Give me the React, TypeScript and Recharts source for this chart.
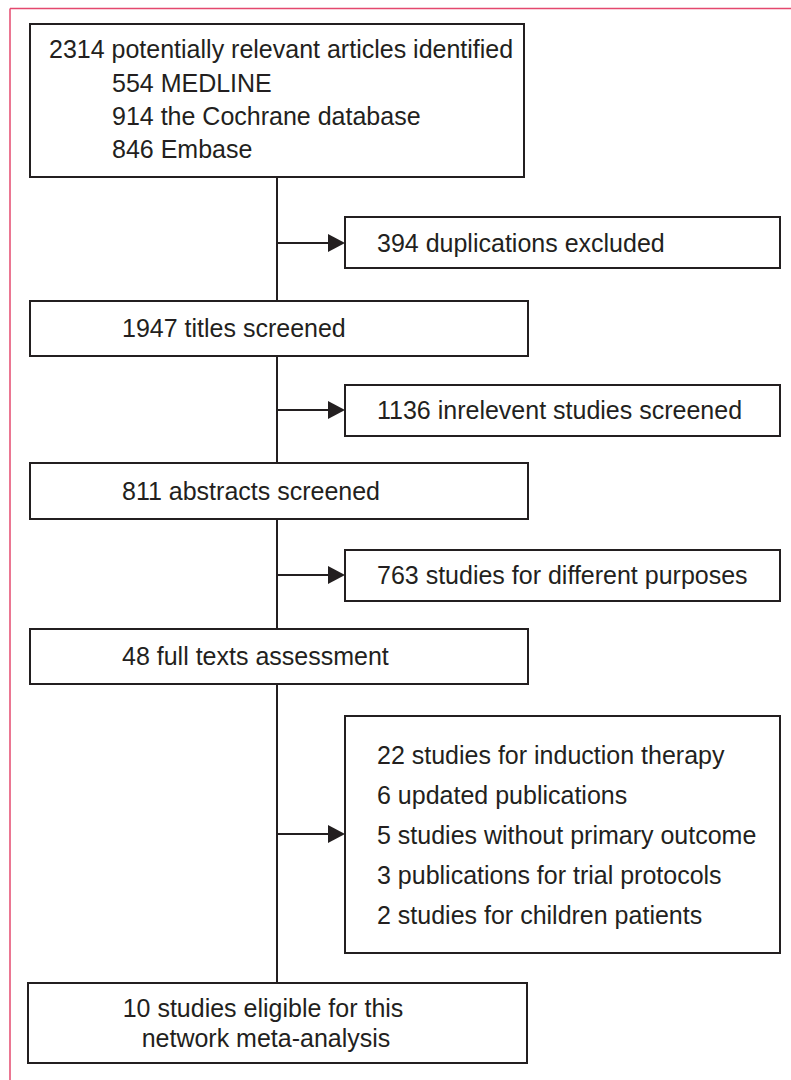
import { ComposedChart, XAxis, YAxis, ReferenceArea, ReferenceLine, Scatter } from 'recharts';

// flow stages on the left column (chart units = pixels)
const mainBoxes = [
  { x1: 30, x2: 524, y1: 24, y2: 177 },
  { x1: 30, x2: 528, y1: 301, y2: 356 },
  { x1: 30, x2: 528, y1: 463, y2: 519 },
  { x1: 30, x2: 528, y1: 629, y2: 684 },
  { x1: 28, x2: 527, y1: 983, y2: 1063 },
];

// exclusion boxes on the right column
const sideBoxes = [
  { x1: 345, x2: 780, y1: 217, y2: 268 },
  { x1: 345, x2: 780, y1: 385, y2: 436 },
  { x1: 345, x2: 780, y1: 550, y2: 601 },
  { x1: 345, x2: 780, y1: 716, y2: 953 },
];

const spineX = 277;

const arrows = [
  { x: 345, y: 243 },
  { x: 345, y: 410 },
  { x: 345, y: 575 },
  { x: 345, y: 834 },
];

const mainLabels = [
  { x: 49, y: 58, text: '2314 potentially relevant articles identified' },
  { x: 112, y: 92, text: '554 MEDLINE' },
  { x: 112, y: 125, text: '914 the Cochrane database' },
  { x: 112, y: 158, text: '846 Embase' },
  { x: 122, y: 337, text: '1947 titles screened' },
  { x: 122, y: 500, text: '811 abstracts screened' },
  { x: 122, y: 665, text: '48 full texts assessment' },
];

const sideLabels = [
  { x: 377, y: 252, text: '394 duplications excluded' },
  { x: 377, y: 419, text: '1136 inrelevent studies screened' },
  { x: 377, y: 584, text: '763 studies for different purposes' },
  { x: 377, y: 764, text: '22 studies for induction therapy' },
  { x: 377, y: 804, text: '6 updated publications' },
  { x: 377, y: 844, text: '5 studies without primary outcome' },
  { x: 377, y: 884, text: '3 publications for trial protocols' },
  { x: 377, y: 924, text: '2 studies for children patients' },
];

const finalLabels = [
  { x: 263, y: 1017, text: '10 studies eligible for this' },
  { x: 266, y: 1047, text: 'network meta-analysis' },
];

const INK = '#231f20';
const FONT = '"Liberation Sans", Arial, sans-serif';

const leftText = (props: any) => (
  <text x={props.cx} y={props.cy} fill={INK} fontSize={25} fontFamily={FONT}>
    {props.payload.text}
  </text>
);

const centerText = (props: any) => (
  <text x={props.cx} y={props.cy} fill={INK} fontSize={25} fontFamily={FONT} textAnchor="middle">
    {props.payload.text}
  </text>
);

const arrowHead = (props: any) => {
  const { cx, cy } = props;
  return <path d={`M${cx},${cy} L${cx - 17},${cy - 9} L${cx - 17},${cy + 9} Z`} fill={INK} />;
};

// spine pieces run only in the gaps between the left boxes
const spineGaps = mainBoxes.slice(0, -1).map((b, i) => [b.y2, mainBoxes[i + 1].y1]);

export default function App() {
  return (
    <div style={{ position: 'absolute', left: 0, top: 0, background: '#fff' }}>
      <ComposedChart width={791} height={1080} margin={{ top: 0, right: 0, bottom: 0, left: 0 }}>
        <XAxis dataKey="x" type="number" domain={[0, 791]} hide allowDataOverflow />
        <YAxis type="number" domain={[0, 1080]} reversed hide allowDataOverflow />

        {/* pink frame */}
        <ReferenceLine segment={[{ x: 10, y: 8.5 }, { x: 791, y: 8.5 }]} stroke="#e4486e" strokeWidth={1.5} ifOverflow="visible" />
        <ReferenceLine segment={[{ x: 10, y: 8.5 }, { x: 10, y: 1080 }]} stroke="#e4486e" strokeWidth={1.5} ifOverflow="visible" />

        {mainBoxes.concat(sideBoxes).map((b, i) => (
          <ReferenceArea key={`b${i}`} x1={b.x1} x2={b.x2} y1={b.y1} y2={b.y2} fill="#fff" fillOpacity={1} stroke={INK} strokeWidth={2} ifOverflow="visible" />
        ))}

        {spineGaps.map(([top, bottom], i) => (
          <ReferenceLine key={`s${i}`} segment={[{ x: spineX, y: top }, { x: spineX, y: bottom }]} stroke={INK} strokeWidth={2} />
        ))}
        {arrows.map((a, i) => (
          <ReferenceLine key={`a${i}`} segment={[{ x: spineX, y: a.y }, { x: a.x - 10, y: a.y }]} stroke={INK} strokeWidth={2} />
        ))}

        <Scatter data={arrows} dataKey="y" shape={arrowHead} isAnimationActive={false} />
        <Scatter data={mainLabels} dataKey="y" shape={leftText} isAnimationActive={false} />
        <Scatter data={sideLabels} dataKey="y" shape={leftText} isAnimationActive={false} />
        <Scatter data={finalLabels} dataKey="y" shape={centerText} isAnimationActive={false} />
      </ComposedChart>
    </div>
  );
}
